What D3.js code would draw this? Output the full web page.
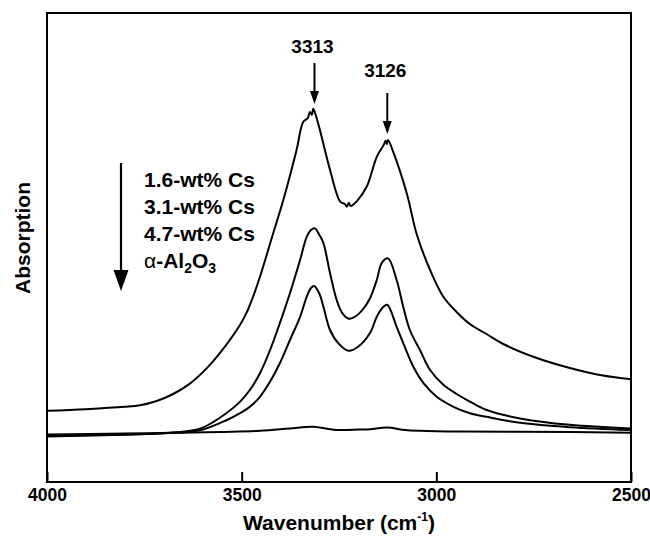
<!DOCTYPE html>
<html><head><meta charset="utf-8">
<script src="https://cdn.jsdelivr.net/npm/d3@7"></script>
<style>
html,body{margin:0;padding:0;background:#fff;}
text{font-family:"Liberation Sans",Arial,Helvetica,sans-serif;font-weight:bold;fill:#000;}
</style></head>
<body><svg id="chart" width="650" height="541"></svg>
<script>
// ---- data (wavenumber cm^-1, absorption a.u.) ----
const cs16 = [[4000,0.178],[3900,0.182],[3800,0.188],[3761,0.192],[3720,0.202],[3676,0.220],[3633,0.246],[3590,0.284],[3556,0.322],[3504,0.393],[3487,0.424],[3473,0.457],[3453,0.513],[3419,0.622],[3393,0.705],[3359,0.830],[3342,0.900],[3330,0.910],[3325,0.925],[3320,0.918],[3316,0.933],[3310,0.918],[3299,0.880],[3273,0.780],[3247,0.701],[3235,0.695],[3230,0.688],[3225,0.698],[3220,0.690],[3205,0.701],[3179,0.738],[3153,0.813],[3135,0.843],[3130,0.853],[3127,0.845],[3124,0.855],[3111,0.826],[3076,0.722],[3050,0.618],[3016,0.530],[2982,0.463],[2948,0.425],[2914,0.395],[2871,0.370],[2828,0.345],[2742,0.310],[2657,0.285],[2572,0.266],[2500,0.257]];
const cs31 = [[4000,0.116],[3800,0.119],[3676,0.124],[3607,0.133],[3538,0.173],[3504,0.201],[3479,0.230],[3453,0.272],[3427,0.330],[3402,0.397],[3376,0.472],[3350,0.555],[3333,0.613],[3322,0.630],[3312,0.634],[3300,0.617],[3290,0.597],[3273,0.522],[3256,0.455],[3242,0.423],[3224,0.408],[3206,0.415],[3186,0.435],[3170,0.460],[3153,0.505],[3140,0.548],[3124,0.559],[3102,0.505],[3085,0.438],[3068,0.380],[3042,0.330],[3016,0.280],[2982,0.243],[2948,0.220],[2914,0.201],[2871,0.180],[2785,0.159],[2657,0.143],[2500,0.134]];
const cs47 = [[4000,0.114],[3800,0.118],[3676,0.123],[3607,0.129],[3538,0.155],[3504,0.172],[3479,0.188],[3453,0.213],[3427,0.251],[3402,0.297],[3376,0.355],[3350,0.413],[3333,0.463],[3322,0.485],[3314,0.490],[3300,0.470],[3290,0.438],[3273,0.380],[3252,0.347],[3226,0.328],[3201,0.338],[3170,0.373],[3153,0.413],[3136,0.438],[3126,0.443],[3102,0.388],[3085,0.347],[3059,0.288],[3033,0.247],[2999,0.213],[2956,0.188],[2914,0.172],[2871,0.163],[2785,0.148],[2657,0.137],[2500,0.130]];
const alumina = [[4000,0.119],[3800,0.121],[3676,0.123],[3453,0.128],[3376,0.134],[3316,0.138],[3280,0.133],[3256,0.130],[3200,0.131],[3170,0.132],[3127,0.136],[3080,0.130],[3042,0.128],[2939,0.126],[2657,0.125],[2500,0.123]];
const xTicks = [4000, 3500, 3000, 2500];
const peakLabels = [3313, 3126];
const legendLabels = ["1.6-wt% Cs", "3.1-wt% Cs", "4.7-wt% Cs"];

// ---- layout ----
const L = 47, R = 631, T = 13, B = 482;
const svg = d3.select("#chart");
const x = d3.scaleLinear().domain([4000, 2500]).range([L, R]);
const y = d3.scaleLinear().domain([0, 1.1725]).range([B, T]);

const line = d3.line().x(d => x(d[0])).y(d => y(d[1])).curve(d3.curveCatmullRom.alpha(0.5));
[alumina, cs47, cs31, cs16].forEach(s => {
  svg.append("path").attr("d", line(s)).attr("fill", "none")
    .attr("stroke", "#000").attr("stroke-width", 2).attr("stroke-linejoin", "round");
});

// frame
svg.append("rect").attr("x", L).attr("y", T).attr("width", R - L).attr("height", B - T)
  .attr("fill", "none").attr("stroke", "#000").attr("stroke-width", 2);

// bottom axis
const ax = svg.append("g").attr("transform", `translate(0,${B})`)
  .call(d3.axisBottom(x).tickValues(xTicks).tickFormat(d3.format("d")).tickSizeInner(-10).tickSizeOuter(0).tickPadding(7));
ax.select(".domain").remove();
ax.selectAll(".tick line").attr("stroke", "#000").attr("stroke-width", 2);
ax.selectAll(".tick text").style("font-size", "17.5px").style("font-weight", "bold")
  .style("font-family", '"Liberation Sans",Arial,sans-serif').attr("fill", "#000");

// axis titles
const xt = svg.append("text").attr("x", (L + R) / 2).attr("y", 530).attr("text-anchor", "middle").style("font-size", "21px");
xt.append("tspan").text("Wavenumber (cm");
xt.append("tspan").text("-1").attr("dy", -9).style("font-size", "12px");
xt.append("tspan").text(")").attr("dy", 9);
svg.append("text").attr("transform", "translate(30,238) rotate(-90)").attr("text-anchor", "middle")
  .style("font-size", "21px").text("Absorption");

// peak annotations
const peakY = [[53, 63, 104], [77, 93, 134]];
peakLabels.forEach((p, i) => {
  const px = x(p);
  svg.append("text").attr("x", px - 2).attr("y", peakY[i][0]).attr("text-anchor", "middle").style("font-size", "19px").text(p);
  svg.append("line").attr("x1", px).attr("x2", px).attr("y1", peakY[i][1]).attr("y2", peakY[i][2] - 10)
    .attr("stroke", "#000").attr("stroke-width", 2);
  svg.append("path").attr("d", `M${px - 4.5},${peakY[i][2] - 13}L${px + 4.5},${peakY[i][2] - 13}L${px},${peakY[i][2]}Z`).attr("fill", "#000");
});

// legend
svg.append("line").attr("x1", 121).attr("x2", 121).attr("y1", 163).attr("y2", 272).attr("stroke", "#000").attr("stroke-width", 2.2);
svg.append("path").attr("d", "M113.5,270L128.5,270L121,291Z").attr("fill", "#000");
legendLabels.forEach((t, i) => {
  svg.append("text").attr("x", 144).attr("y", 187 + i * 27).style("font-size", "21px").text(t);
});
const al = svg.append("text").attr("x", 144).attr("y", 268).style("font-size", "21px");
al.append("tspan").text("α").style("font-weight", "normal");
al.append("tspan").text("-Al");
al.append("tspan").text("2").attr("dy", 5).style("font-size", "14px");
al.append("tspan").text("O").attr("dy", -5);
al.append("tspan").text("3").attr("dy", 5).style("font-size", "14px");
</script></body></html>
